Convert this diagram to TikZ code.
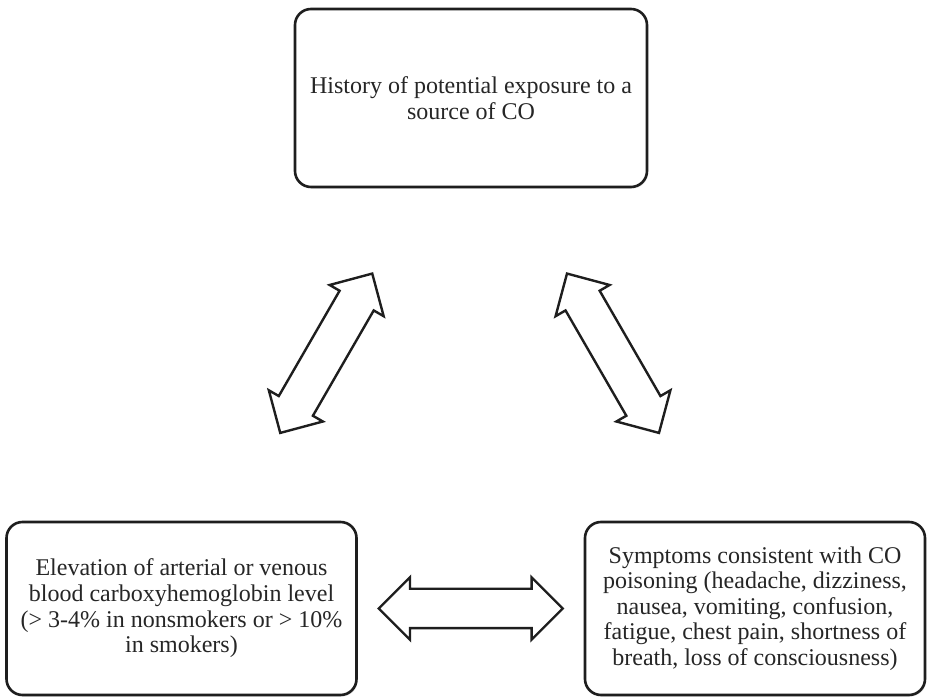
\documentclass[tikz,border=0pt]{standalone}
\usepackage{fontspec}
\setmainfont{Liberation Serif}
\usepackage{xcolor}
\definecolor{vizLine}{HTML}{1E1E1E}
\definecolor{vizText}{HTML}{262626}
\usetikzlibrary{shapes.arrows,calc,shadows}

\tikzset{
  vizBox/.style={draw=vizLine, line width=1.3pt, rounded corners=8pt, fill=white,
    drop shadow={opacity=0.18, shadow xshift=0.6pt, shadow yshift=-0.8pt},
    text=vizText, align=center, font=\fontsize{12}{12.8}\selectfont, inner sep=0pt},
  vizArrow/.style={double arrow, draw=vizLine, line width=1.2pt, fill=white,
    minimum height=92pt, inner xsep=0pt, inner ysep=9.25pt, double arrow head extend=5.75pt},
}

\begin{document}
\begin{tikzpicture}[x=0.5pt, y=-0.5pt]
  \useasboundingbox (0,0) rectangle (927,699);
  \node[vizBox, minimum width=176pt, minimum height=89pt] (history) at (471,98) {History of potential exposure to a\\source of CO};
  \node[vizBox, minimum width=175pt, minimum height=86.5pt] (cohb) at (181.5,608.5) {Elevation of arterial or venous\\blood carboxyhemoglobin level\\(> 3-4\% in nonsmokers or > 10\%\\in smokers)};
  \node[vizBox, minimum width=170pt, minimum height=86.5pt] (symptoms) at (755,608.5) {Symptoms consistent with CO\\poisoning (headache, dizziness,\\nausea, vomiting, confusion,\\fatigue, chest pain, shortness of\\breath, loss of consciousness)};
  \node[vizArrow, rotate=60] (arrowLeft) at ($(history.center)!0.5!(cohb.center)$) {};
  \node[vizArrow, rotate=-60] (arrowRight) at ($(history.center)!0.5!(symptoms.center)$) {};
  \node[vizArrow] (arrowBottom) at ($(cohb.east)!0.5!(symptoms.west)$) {};
\end{tikzpicture}
\end{document}
